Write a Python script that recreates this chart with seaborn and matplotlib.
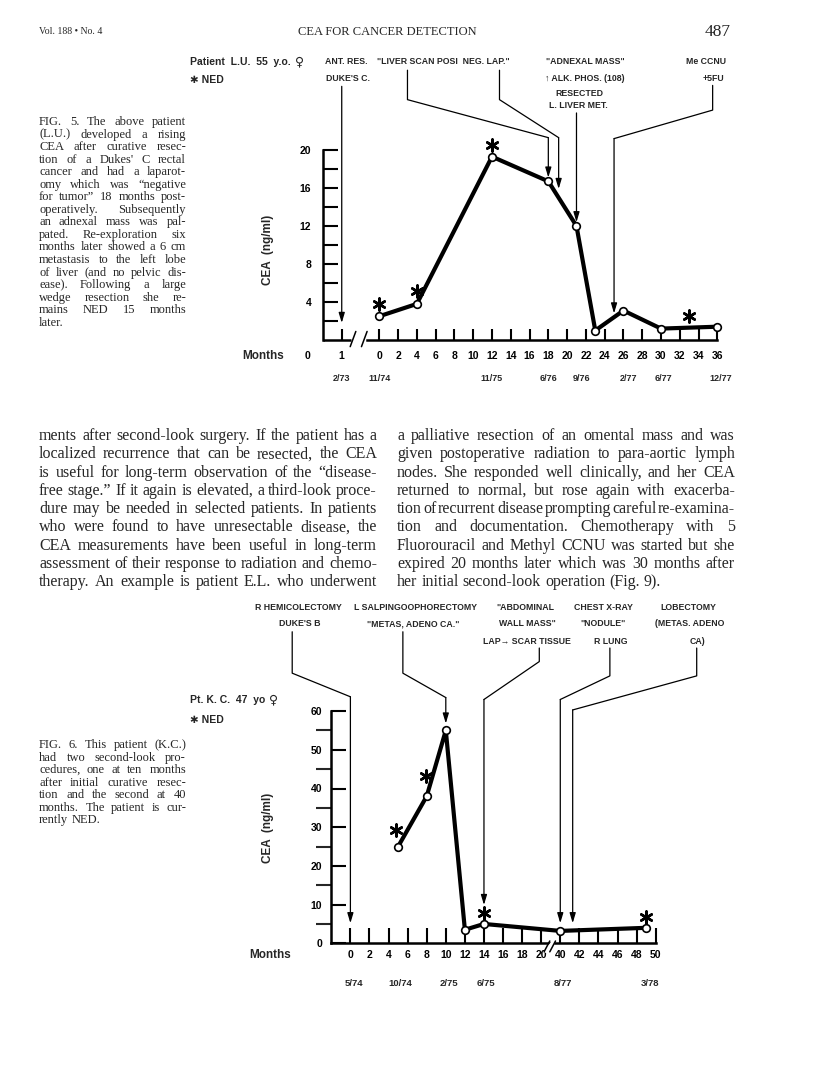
import matplotlib
matplotlib.use("Agg")
import matplotlib.pyplot as plt
import seaborn as sns
import numpy as np
import pandas as pd

W, H = 816, 1081

# Fig. 5, patient L.U.: months vs CEA (ng/ml)
f5_months = [0, 4, 12, 18, 21, 23, 26, 30, 36]
f5_cea = [2.5, 3.8, 19.3, 16.7, 12.0, 1.0, 3.1, 1.2, 1.4]
f5_ned_months = [0, 4, 12, 33]
f5_ned_cea = [3.8, 5.2, 20.5, 2.5]
f5_tick_months = list(range(0, 37, 2))
f5_dates = ["2/73", "11/74", "11/75", "6/76", "9/76", "2/77", "6/77", "12/77"]
f5_date_months = [-4, 0, 12, 18, 21.5, 26.5, 30.3, 36.4]

# Fig. 6, patient K.C. (axis break hides months 20-40)
f6_months = [5, 8, 10, 12, 14, 40, 49]
f6_cea = [25, 38, 55, 3.5, 5, 3.2, 4]
f6_ned_months = [4.8, 7.9, 14, 49]
f6_ned_cea = [29.3, 43.3, 7.9, 6.9]
f6_tick_months = list(range(0, 21, 2)) + list(range(40, 51, 2))
f6_dates = ["5/74", "10/74", "2/75", "6/75", "8/77", "3/78"]
f6_date_months = [0.4, 5.2, 10.3, 14.2, 40.3, 49.4]

cap5 = ["FIG. 5. The above patient", "(L.U.) developed a rising", "CEA after curative resec-",
        "tion of a Dukes' C rectal", "cancer and had a laparot-", "omy which was \u201cnegative",
        "for tumor\u201d 18 months post-", "operatively. Subsequently", "an adnexal mass was pal-",
        "pated. Re-exploration six", "months later showed a 6 cm", "metastasis to the left lobe",
        "of liver (and no pelvic dis-", "ease). Following a large", "wedge resection she re-",
        "mains NED 15 months", "later."]
cap6 = ["FIG. 6. This patient (K.C.)", "had two second-look pro-", "cedures, one at ten months",
        "after initial curative resec-", "tion and the second at 40", "months. The patient is cur-",
        "rently NED."]
body_left = ["ments after second-look surgery. If the patient has a",
             "localized recurrence that can be resected, the CEA",
             "is useful for long-term observation of the \u201cdisease-",
             "free stage.\u201d If it again is elevated, a third-look proce-",
             "dure may be needed in selected patients. In patients",
             "who were found to have unresectable disease, the",
             "CEA measurements have been useful in long-term",
             "assessment of their response to radiation and chemo-",
             "therapy. An example is patient E.L. who underwent"]
body_right = ["a palliative resection of an omental mass and was",
              "given postoperative radiation to para-aortic lymph",
              "nodes. She responded well clinically, and her CEA",
              "returned to normal, but rose again with exacerba-",
              "tion of recurrent disease prompting careful re-examina-",
              "tion and documentation. Chemotherapy with 5",
              "Fluorouracil and Methyl CCNU was started but she",
              "expired 20 months later which was 30 months after",
              "her initial second-look operation (Fig. 9)."]

sns.set_theme(style="ticks")
plt.rcParams["font.family"] = ["Liberation Sans", "DejaVu Sans"]
fig = plt.figure(figsize=(W / 100, H / 100), dpi=100)
fig.patch.set_facecolor("white")
renderer = fig.canvas.get_renderer()

SERIF = ["Liberation Serif", "DejaVu Serif"]
SANS = ["Liberation Sans", "DejaVu Sans"]
BOLD = dict(family=SANS, fontweight="bold")


def ptext(x, y, s, size=6.3, ha="center", **kw):
    return fig.text(x / W, 1 - y / H, s, fontsize=size, ha=ha, va="center", **BOLD, **kw)


def female(t, y, size=9):
    # venus sign drawn after a left-aligned label
    right = t.get_window_extent(renderer).x1
    fig.text((right + 4) / W, 1 - y / H, "\u2640", fontsize=size, ha="left", va="center",
             family=["DejaVu Sans"], fontweight="bold")


def justify(lines, x0, x1, y0, dy, size, ragged_last=True):
    a = fig.text(0, 0, "a a", fontsize=size, family=SERIF)
    b = fig.text(0, 0, "aa", fontsize=size, family=SERIF)
    sp = a.get_window_extent(renderer).width - b.get_window_extent(renderer).width
    a.remove(); b.remove()
    for i, line in enumerate(lines):
        y = 1 - (y0 + i * dy) / H
        words = line.split(" ")
        ts = [fig.text(0, y, w, fontsize=size, family=SERIF, va="baseline") for w in words]
        ws = [t.get_window_extent(renderer).width for t in ts]
        last = ragged_last and i == len(lines) - 1
        gap = sp if (last or len(words) < 2) else (x1 - x0 - sum(ws)) / (len(words) - 1)
        x = x0
        for t, w in zip(ts, ws):
            t.set_x(x / W)
            x += w + gap


def chart_axes(x0, sx, y0, sy, xlim, ylim):
    left, right = x0 + sx * xlim[0], x0 + sx * xlim[1]
    top, bottom = y0 - sy * ylim[1], y0 - sy * ylim[0]
    ax = fig.add_axes([left / W, 1 - bottom / H, (right - left) / W, (bottom - top) / H])
    ax.patch.set_alpha(0)
    for s in ["top", "right"]:
        ax.spines[s].set_visible(False)
    return ax, xlim, ylim


def pointer(ax, pts):
    xs, ys = zip(*pts)
    ax.plot(xs[:-1], ys[:-1], color="black", lw=0.9, clip_on=False)
    ax.annotate("", xy=pts[-1], xytext=pts[-2], annotation_clip=False,
                arrowprops=dict(arrowstyle="-|>,head_length=0.5,head_width=0.15",
                                color="black", lw=0.9, shrinkA=0, shrinkB=0))


def style_axis(ax, xlen, ylen, xpad, ypad):
    for s in ["left", "bottom"]:
        ax.spines[s].set_linewidth(1.8)
        ax.spines[s].set_color("black")
    ax.tick_params(axis="both", direction="in", width=1.5, colors="black",
                   labelsize=7.5, left=True, bottom=True)
    ax.tick_params(axis="x", length=xlen, pad=xpad)
    ax.tick_params(axis="y", which="both", length=ylen, pad=ypad, width=1.5)
    for lab in ax.get_xticklabels() + ax.get_yticklabels():
        lab.set_fontweight("bold")
        lab.set_fontfamily(SANS)


line_kw = dict(color="black", linewidth=3, marker="o", markersize=5.5,
               markerfacecolor="white", markeredgecolor="black", markeredgewidth=1.2,
               sort=False, estimator=None, zorder=5)
star_kw = dict(marker=(6, 2, 0), s=75, linewidths=1.8, color="black", zorder=6, clip_on=False)

# ---------------- header ----------------
fig.text(39 / W, 1 - 32 / H, "Vol. 188 \u2022 No. 4", fontsize=7, family=SERIF, va="center")
fig.text(387 / W, 1 - 32 / H, "CEA FOR CANCER DETECTION", fontsize=9, family=SERIF,
         ha="center", va="center")
fig.text(731 / W, 1 - 32 / H, "487", fontsize=12.5, family=SERIF, ha="right", va="center")

# ---------------- Fig. 5 ----------------
ax5, xl, yl = chart_axes(379.3, 9.39, 340, 9.5, (-12, 40), (-5, 32))
d5 = pd.DataFrame({"month": f5_months, "cea": f5_cea})
sns.lineplot(data=d5, x="month", y="cea", ax=ax5, **line_kw)
ax5.scatter(f5_ned_months, f5_ned_cea, **star_kw)
ax5.set_xlim(xl); ax5.set_ylim(yl)
ax5.set_xlabel(""); ax5.set_ylabel("")
ax5.spines["left"].set_position(("data", -6))
ax5.spines["left"].set_bounds(0, 20)
ax5.spines["bottom"].set_position(("data", 0))
ax5.spines["bottom"].set_bounds(-1.3, 36)
ax5.set_yticks(range(2, 21, 2), ["" if v % 4 else str(v) for v in range(2, 21, 2)])
ax5.set_xticks([-7.6, -4] + f5_tick_months, ["0", "1"] + [str(m) for m in f5_tick_months])
style_axis(ax5, 8, 11, 8, 8.5)
ax5.xaxis.get_major_ticks()[0].tick1line.set_visible(False)
ax5.plot([-6, -3.0], [0, 0], color="black", lw=1.8, clip_on=False, solid_capstyle="butt")
ax5.plot([-3.1, -2.5], [-0.7, 0.9], color="black", lw=1.1, clip_on=False)
ax5.plot([-1.9, -1.3], [-0.7, 0.9], color="black", lw=1.1, clip_on=False)
for d, m in zip(f5_dates, f5_date_months):
    ax5.text(m, -4.0, d, ha="center", va="center", fontsize=6.5, **BOLD)
pointer(ax5, [(-4, 26.7), (-4, 1.8)])
pointer(ax5, [(3.0, 28.4), (3.0, 25.3), (18, 21.3), (18, 17.1)])
pointer(ax5, [(12.8, 28.4), (12.8, 25.3), (19.1, 21.3), (19.1, 15.9)])
pointer(ax5, [(21, 23.9), (21, 12.4)])
pointer(ax5, [(35.5, 26.8), (35.5, 24.2), (25.0, 21.2), (25.0, 2.8)])

female(ptext(190, 62, "Patient  L.U.  55  y.o.", size=7.5, ha="left"), 62)
ptext(190, 80, "\u2731 NED", size=7.5, ha="left")
ptext(346, 62, "ANT. RES.")
ptext(348, 78, "DUKE'S C.")
ptext(377, 62, "\"LIVER SCAN POSI  NEG. LAP.\"", ha="left")
ptext(585, 62, "\"ADNEXAL MASS\"")
ptext(585, 78, "\u2191 ALK. PHOS. (108)")
ptext(579, 93, "RESECTED")
ptext(578, 106, "L. LIVER MET.")
ptext(706, 62, "Me CCNU")
ptext(713, 78, "+5FU")
ptext(263, 356, "Months", size=8.5)
ptext(268, 250, "CEA  (ng/ml)", size=8.5, rotation=90)

justify(cap5, 39, 186, 125, 12.55, 9)

# ---------------- body text ----------------
justify(body_left, 39, 377, 440, 18.3, 11.5, ragged_last=False)
justify(body_right, 397, 735, 440, 18.3, 11.5)

# ---------------- Fig. 6 ----------------
def f6pos(m):
    return m if m <= 20 else m - 18

ax6, xl, yl = chart_axes(350.4, 9.54, 943.3, 3.87, (-10, 36), (-12, 84))
d6 = pd.DataFrame({"pos": [f6pos(m) for m in f6_months], "cea": f6_cea})
sns.lineplot(data=d6, x="pos", y="cea", ax=ax6, **line_kw)
ax6.scatter([f6pos(m) for m in f6_ned_months], f6_ned_cea, **star_kw)
ax6.set_xlim(xl); ax6.set_ylim(yl)
ax6.set_xlabel(""); ax6.set_ylabel("")
ax6.spines["left"].set_position(("data", -2))
ax6.spines["left"].set_bounds(0, 60)
ax6.spines["bottom"].set_position(("data", 0))
ax6.spines["bottom"].set_bounds(-2, 32)
ax6.set_yticks(range(0, 61, 10), [str(v) for v in range(0, 61, 10)])
ax6.set_yticks(range(5, 60, 10), minor=True)
ax6.set_xticks([f6pos(m) for m in f6_tick_months], [str(m) for m in f6_tick_months])
style_axis(ax6, 11, 11, 5, 6.5)
ax6.plot([20.55, 21.2], [-2.0, 0], color="white", lw=3, clip_on=False, zorder=4)
ax6.plot([20.3, 20.9], [-2.2, 0.6], color="black", lw=1.1, clip_on=False, zorder=5)
ax6.plot([20.9, 21.5], [-2.2, 0.6], color="black", lw=1.1, clip_on=False, zorder=5)
for d, m in zip(f6_dates, f6_date_months):
    ax6.text(f6pos(m), -10.5, d, ha="center", va="center", fontsize=6.8, **BOLD)
pointer(ax6, [(-6.1, 80.5), (-6.1, 69.8), (0, 63.7), (0, 5.2)])
pointer(ax6, [(5.5, 80.5), (5.5, 69.8), (10, 63.5), (10, 56.8)])
pointer(ax6, [(19.8, 76.3), (19.8, 72.8), (14, 63.0), (14, 9.9)])
pointer(ax6, [(27.2, 76.3), (27.2, 69.1), (f6pos(40), 63.0), (f6pos(40), 5.2)])
pointer(ax6, [(36.3, 76.3), (36.3, 69.1), (f6pos(41.3), 60.3), (f6pos(41.3), 5.2)])

ptext(298, 607, "R HEMICOLECTOMY")
ptext(300, 624, "DUKE'S B")
ptext(415, 607, "L SALPINGOOPHORECTOMY")
ptext(413, 624, "\"METAS, ADENO CA.\"")
ptext(525, 607, "\"ABDOMINAL")
ptext(527, 624, "WALL MASS\"")
ptext(527, 641, "LAP\u2192 SCAR TISSUE")
ptext(603, 607, "CHEST X-RAY")
ptext(603, 624, "\"NODULE\"")
ptext(611, 641, "R LUNG")
ptext(688, 607, "LOBECTOMY")
ptext(690, 624, "(METAS. ADENO")
ptext(697, 641, "CA)")
female(ptext(190, 700, "Pt. K. C.  47  yo", size=7.5, ha="left"), 700)
ptext(190, 720, "\u2731 NED", size=7.5, ha="left")
ptext(270, 955, "Months", size=8.5)
ptext(268, 828, "CEA  (ng/ml)", size=8.5, rotation=90)

justify(cap6, 39, 186, 748, 12.55, 9)

fig.savefig("out.png", dpi=100, facecolor="white")
